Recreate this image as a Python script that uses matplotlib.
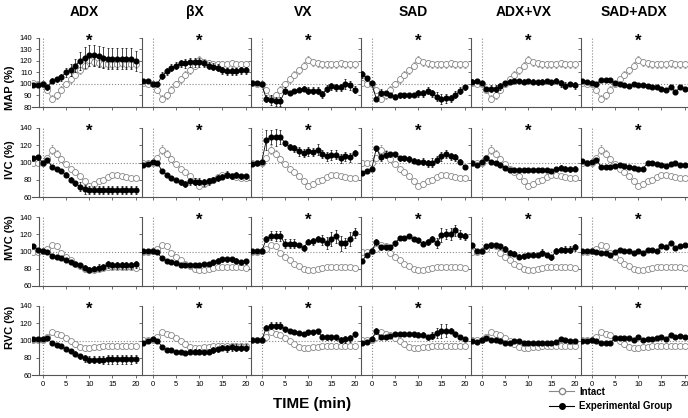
import matplotlib
matplotlib.use("Agg")
import matplotlib.pyplot as plt
from matplotlib.lines import Line2D

plt.rcParams['font.family'] = ['Liberation Sans', 'DejaVu Sans']

minutes = list(range(-2, 21))
groups = ['ADX', 'βX', 'VX', 'SAD', 'ADX+VX', 'SAD+ADX']
variables = ['MAP (%)', 'IVC (%)', 'MVC (%)', 'RVC (%)']

# intact group (same in every column of a row)
intact_map = [101, 100, 100, 95, 87, 90, 95, 100, 104, 108, 112, 116, 121, 119, 118, 117, 117, 117, 117, 118, 117, 117, 117]
intact_ivc = [99, 99, 100, 105, 115, 110, 104, 98, 93, 89, 84, 78, 73, 75, 78, 80, 83, 85, 86, 84, 83, 82, 82]
intact_mvc = [100, 100, 101, 103, 108, 106, 98, 94, 90, 85, 83, 80, 78, 79, 80, 81, 82, 82, 82, 82, 82, 82, 81]
intact_rvc = [101, 101, 100.5, 104.5, 109.5, 108, 106, 102.5, 99, 95.5, 93, 91, 91, 92, 93, 93.5, 94, 94, 94, 94, 94, 94, 93.5]

intact_map_err = [1, 1, 1, 2, 3, 3, 3, 3, 3, 3, 3, 3, 3, 3, 3, 3, 3, 3, 3, 3, 3, 3, 3]
intact_ivc_err = [1, 1, 1, 2, 5, 4, 3, 2, 2, 2, 3, 3, 3, 3, 2, 2, 2, 2, 2, 2, 2, 2, 2]
intact_mvc_err = [1, 1, 1, 2, 2, 2, 2, 2, 2, 2, 2, 2, 2, 2, 2, 2, 2, 2, 2, 2, 2, 2, 2]
intact_rvc_err = [1, 1, 1, 2, 2, 3, 3, 3, 3, 3, 3, 3, 3, 3, 3, 3, 3, 3, 3, 3, 3, 3, 3]

# experimental groups, MAP
map_adx = [99, 99, 100, 97, 103, 104, 106, 110, 112, 116, 120, 123, 125, 125, 124, 123, 122, 122, 122, 122, 122, 122, 120]
map_bx = [103, 103, 100, 100, 107, 111, 114, 116, 118, 118, 119, 119, 119, 118, 116, 115, 114, 112, 111, 111, 111, 112, 112]
map_vx = [101, 101, 100, 87, 86, 85, 85, 94, 92, 94, 95, 96, 94, 94, 94, 91, 96, 98, 97, 97, 100, 99, 95]
map_sad = [108.5, 105, 100.5, 87, 92.5, 92, 90.5, 89, 90, 90, 90, 90.5, 92, 92, 94, 92, 89, 87, 87.5, 87.5, 90.5, 94, 97]
map_adxvx = [102, 102.5, 100.5, 95.5, 96, 96, 98, 100.5, 102, 102.5, 102.5, 102, 102.5, 102, 101.5, 102, 102.5, 101.5, 103, 100.5, 98.5, 100, 99]
map_sadadx = [103, 102, 101, 100, 103.5, 103.5, 103.5, 100.5, 100, 99.5, 98, 100, 99.5, 99.5, 98, 97.5, 97.5, 96, 95, 97.5, 93, 97, 96]

map_adx_err = [2, 2, 1, 2, 2, 2, 3, 4, 5, 6, 8, 9, 9, 9, 9, 9, 9, 9, 9, 9, 9, 9, 9]
map_bx_err = [1, 1, 1, 2, 3, 3, 3, 3, 3, 4, 4, 4, 4, 3, 3, 3, 3, 3, 3, 3, 3, 3, 3]
map_vx_err = [1, 1, 1, 3, 4, 4, 4, 3, 2, 2, 2, 2, 3, 3, 3, 3, 3, 3, 3, 3, 4, 4, 3]
map_sad_err = [3, 2, 1, 2, 3, 2, 2, 2, 2, 2, 2, 2, 3, 3, 3, 3, 4, 4, 4, 3, 3, 3, 2]
map_adxvx_err = [2, 2, 1, 2, 3, 3, 3, 2, 2, 2, 2, 2, 2, 2, 2, 2, 2, 2, 2, 3, 3, 2, 3]
map_sadadx_err = [1, 1, 1, 1, 1, 1, 1, 1, 1, 1, 1, 1, 1, 1, 1, 1, 1, 1, 1, 1, 2, 1, 1]

# IVC
ivc_adx = [105, 106, 100, 103, 95, 92, 90, 86, 80, 76, 72, 69, 68, 68, 68, 68, 68, 68, 68, 68, 68, 68, 68]
ivc_bx = [97, 98, 101, 100, 90, 86, 82, 79.5, 77, 75, 78, 77.5, 77.5, 77, 78, 80, 82, 83.5, 86, 84, 85.5, 84, 84]
ivc_vx = [98, 99, 101, 126, 130, 129, 130, 122.5, 118, 116.5, 113, 111, 113, 112, 115, 110, 107, 109, 109, 105, 107, 106, 111]
ivc_sad = [88, 90, 93, 116.5, 106, 109, 109.5, 109.5, 105, 105, 104, 102, 101, 101, 99, 100, 103, 107, 110, 107, 106, 101, 95]
ivc_adxvx = [99, 97, 101, 105, 101, 100, 97, 94, 91.5, 91.5, 91, 91, 91, 91.5, 91.5, 91, 91, 90, 92, 94, 93, 92, 93]
ivc_sadadx = [102, 99, 101, 103, 95, 95, 95, 96, 97, 96, 95, 94, 93, 93, 99, 99, 98, 97, 96, 98, 99, 97, 97]

ivc_adx_err = [3, 3, 2, 2, 2, 2, 2, 3, 3, 3, 5, 5, 5, 5, 5, 5, 5, 5, 5, 5, 5, 5, 5]
ivc_bx_err = [2, 2, 1, 1, 2, 2, 2, 2, 3, 3, 4, 4, 4, 4, 4, 3, 3, 3, 4, 3, 3, 3, 3]
ivc_vx_err = [2, 2, 2, 12, 8, 10, 8, 3, 4, 4, 5, 5, 5, 5, 6, 5, 5, 6, 5, 5, 5, 5, 4]
ivc_sad_err = [2, 2, 2, 3, 4, 4, 3, 3, 3, 3, 3, 3, 3, 4, 4, 5, 4, 5, 5, 4, 4, 3, 2]
ivc_adxvx_err = [2, 2, 1, 2, 2, 2, 2, 2, 2, 2, 2, 2, 2, 2, 2, 2, 2, 2, 2, 3, 3, 3, 3]
ivc_sadadx_err = [2, 1, 1, 1, 2, 2, 2, 2, 1, 1, 1, 1, 1, 1, 2, 2, 2, 2, 2, 2, 2, 2, 2]

# MVC
mvc_adx = [106, 102, 101, 100, 95, 94, 93, 90, 88, 86, 84, 81, 79, 80, 81, 82, 85, 84, 84, 84, 84, 84, 85]
mvc_bx = [100.5, 100.5, 101, 99, 92, 89.5, 87.5, 86.5, 84.5, 84.5, 84.5, 84.5, 84.5, 85, 86, 87.5, 89.5, 91, 91, 91, 89.5, 87.5, 88.5]
mvc_vx = [101, 101, 100.5, 114.5, 118.5, 118, 118, 109, 109, 109, 108, 104, 111.5, 112, 114.5, 113, 109.5, 114.5, 117.5, 109.5, 109.5, 114.5, 121.5]
mvc_sad = [89.5, 96.5, 100.5, 111, 105, 105, 105, 109.5, 115.5, 115.5, 118, 114.5, 113, 109, 111, 114.5, 109.5, 119.5, 120.5, 120.5, 124.5, 119.5, 117.5]
mvc_adxvx = [107, 101, 100.5, 106, 107, 107, 106, 103, 98.5, 97.5, 94, 94.5, 95.5, 96.5, 96, 98.5, 96, 93.5, 100.5, 102, 102, 102, 105]
mvc_sadadx = [101, 101, 100.5, 99, 98.5, 98.5, 96.5, 99, 102, 101, 101, 98.5, 101, 98.5, 102, 102, 101, 106, 105, 110, 104, 106, 107]

mvc_adx_err = [2, 2, 1, 1, 2, 2, 2, 2, 2, 2, 3, 3, 3, 3, 4, 4, 4, 4, 4, 4, 4, 4, 4]
mvc_bx_err = [2, 2, 1, 1, 2, 2, 2, 2, 2, 2, 2, 2, 2, 2, 2, 3, 3, 3, 3, 3, 3, 3, 3]
mvc_vx_err = [1, 1, 1, 4, 5, 6, 6, 5, 5, 5, 2, 3, 3, 4, 4, 6, 7, 8, 8, 9, 6, 8, 6]
mvc_sad_err = [2, 2, 2, 3, 3, 3, 3, 3, 2, 2, 2, 2, 3, 3, 4, 4, 6, 8, 6, 7, 6, 5, 4]
mvc_adxvx_err = [3, 2, 1, 3, 3, 3, 3, 3, 3, 3, 3, 3, 3, 3, 2, 4, 2, 3, 3, 3, 4, 4, 4]
mvc_sadadx_err = [1, 1, 1, 1, 1, 1, 1, 1, 1, 1, 1, 1, 1, 1, 1, 1, 1, 1, 1, 1, 1, 1, 1]

# RVC
rvc_adx = [102, 102, 101.5, 102.5, 97, 95, 93.5, 90, 88, 84.5, 81.5, 79.5, 77.5, 77.5, 77.5, 77.5, 78, 78, 78, 78, 78, 78, 78.5]
rvc_bx = [97.5, 100, 101.5, 99.5, 93, 89, 88.5, 87, 86.5, 85, 87, 87, 87, 86.5, 87, 89, 90, 91.5, 91, 92, 91.5, 91.5, 91.5]
rvc_vx = [100.5, 100.5, 100.5, 115, 117, 117, 117, 113, 111, 109.5, 108.5, 107.5, 109.5, 109.5, 110.5, 104.5, 103.5, 103.5, 103.5, 100.5, 101.5, 102.5, 107]
rvc_sad = [97, 98.5, 101.5, 111, 103.5, 104.5, 105.5, 107, 107, 107, 107.5, 107, 106.5, 106.5, 103.5, 105.5, 109, 111, 111.5, 111.5, 107, 103.5, 102]
rvc_adxvx = [100, 98.5, 100.5, 102.5, 100.5, 100.5, 100, 97, 97.5, 99.5, 100, 97, 97, 97.5, 97.5, 97.5, 97, 97, 98.5, 101.5, 100.5, 99.5, 100]
rvc_sadadx = [100, 100, 100.5, 99.5, 97.5, 97.5, 97.5, 102.5, 102.5, 102.5, 102.5, 100.5, 103.5, 100.5, 102, 102, 102.5, 103.5, 102, 106.5, 103.5, 105, 104.5]

rvc_adx_err = [2, 2, 1, 1, 2, 2, 2, 2, 2, 3, 3, 4, 4, 4, 4, 5, 5, 5, 5, 5, 5, 5, 5]
rvc_bx_err = [2, 2, 1, 1, 2, 2, 2, 2, 2, 2, 3, 3, 3, 3, 3, 3, 3, 3, 4, 4, 4, 4, 4]
rvc_vx_err = [1, 1, 1, 3, 4, 4, 4, 3, 2, 2, 2, 2, 3, 3, 3, 3, 3, 3, 3, 3, 4, 4, 3]
rvc_sad_err = [1, 1, 1, 3, 2, 2, 2, 2, 2, 2, 2, 3, 3, 3, 3, 4, 6, 8, 8, 3, 3, 2, 2]
rvc_adxvx_err = [1, 1, 1, 1, 1, 1, 1, 2, 2, 2, 1, 1, 1, 1, 1, 1, 1, 1, 1, 1, 1, 1, 1]
rvc_sadadx_err = [1, 1, 1, 1, 1, 1, 1, 1, 1, 1, 1, 1, 1, 1, 1, 1, 1, 1, 1, 1, 1, 1, 1]

stars = [[1, 1, 1, 1, 1, 1],
         [1, 1, 1, 1, 1, 1],
         [0, 1, 1, 1, 1, 1],
         [1, 1, 1, 1, 0, 1]]

intact = [(intact_map, intact_map_err), (intact_ivc, intact_ivc_err),
          (intact_mvc, intact_mvc_err), (intact_rvc, intact_rvc_err)]
exp = [
    [(map_adx, map_adx_err), (map_bx, map_bx_err), (map_vx, map_vx_err),
     (map_sad, map_sad_err), (map_adxvx, map_adxvx_err), (map_sadadx, map_sadadx_err)],
    [(ivc_adx, ivc_adx_err), (ivc_bx, ivc_bx_err), (ivc_vx, ivc_vx_err),
     (ivc_sad, ivc_sad_err), (ivc_adxvx, ivc_adxvx_err), (ivc_sadadx, ivc_sadadx_err)],
    [(mvc_adx, mvc_adx_err), (mvc_bx, mvc_bx_err), (mvc_vx, mvc_vx_err),
     (mvc_sad, mvc_sad_err), (mvc_adxvx, mvc_adxvx_err), (mvc_sadadx, mvc_sadadx_err)],
    [(rvc_adx, rvc_adx_err), (rvc_bx, rvc_bx_err), (rvc_vx, rvc_vx_err),
     (rvc_sad, rvc_sad_err), (rvc_adxvx, rvc_adxvx_err), (rvc_sadadx, rvc_sadadx_err)],
]

W, H = 688, 418
fig = plt.figure(figsize=(W / 100, H / 100), dpi=100)

col_left = [32, 142, 251, 361, 471, 581]
row_top = [38, 128, 217, 306]
pw, ph = 110, 69
label_y = [88, 160, 238, 327]
spine_col = '#555555'

for r in range(4):
    for c in range(6):
        ax = fig.add_axes([col_left[c] / W, 1 - (row_top[r] + ph) / H, pw / W, ph / H])
        ax.patch.set_alpha(0)
        ax.set_xlim(-2.3, 21.35)
        if r == 0:
            ax.set_ylim(80, 140)
            ax.set_yticks(range(80, 141, 10))
        else:
            ax.set_ylim(60, 140)
            ax.set_yticks(range(60, 141, 20))
        ax.set_xticks([0, 5, 10, 15, 20])
        ax.axvline(0, color='#888888', ls=':', lw=0.8, zorder=1)
        ax.axhline(100, color='#888888', ls=':', lw=0.8, zorder=1)

        iv, ie = intact[r]
        ax.errorbar(minutes, iv, yerr=ie, color='#999999', lw=0.6, elinewidth=0.5,
                     capsize=1.0, capthick=0.5, marker='o', ms=4.3, mfc='white',
                     mec='#888888', mew=0.6, zorder=2)
        ev, ee = exp[r][c]
        ax.errorbar(minutes, ev, yerr=ee, color='black', lw=0.6, elinewidth=0.5,
                     capsize=1.0, capthick=0.5, marker='o', ms=3.4, mfc='black',
                     mec='black', zorder=3)

        for s in ['top', 'right']:
            ax.spines[s].set_visible(False)
        for s in ['left', 'bottom']:
            ax.spines[s].set_color(spine_col)
            ax.spines[s].set_linewidth(0.8)
        if c == 0:
            ax.spines['left'].set_position(('data', -0.9))
        ax.tick_params(length=2.5, width=0.6, color=spine_col, labelsize=5.5, pad=2)
        if c != 0:
            ax.tick_params(labelleft=False)
        if r != 3:
            ax.tick_params(labelbottom=False)

        if stars[r][c]:
            ax.annotate('*', xy=(10, 1.0), xycoords=('data', 'axes fraction'),
                        ha='center', va='center', fontsize=12, fontweight='bold',
                        xytext=(0, -2), textcoords='offset points')
        if r == 0:
            ax.annotate(groups[c], xy=(9, 1.0), xycoords=('data', 'axes fraction'),
                        xytext=(0, 19), textcoords='offset points',
                        ha='center', va='center', fontsize=10, fontweight='bold')
    fig.text(10 / W, 1 - label_y[r] / H, variables[r], rotation=90, ha='center',
             va='center', fontsize=8, fontweight='bold')

fig.text(312 / W, 1 - 404 / H, 'TIME (min)', ha='center', va='center',
         fontsize=11, fontweight='bold')

handles = [
    Line2D([], [], color='#888888', lw=0.8, marker='o', ms=4.5, mfc='white', mec='#888888'),
    Line2D([], [], color='black', lw=0.8, marker='o', ms=4, mfc='black', mec='black'),
]
fig.legend(handles, ['Intact', 'Experimental Group'], loc='center left',
           bbox_to_anchor=(544 / W, 1 - 399 / H), frameon=False,
           prop={'size': 7, 'weight': 'bold'}, handlelength=2.6,
           labelspacing=0.45, handletextpad=0.5, borderpad=0)

fig.savefig('out.png', dpi=100)
